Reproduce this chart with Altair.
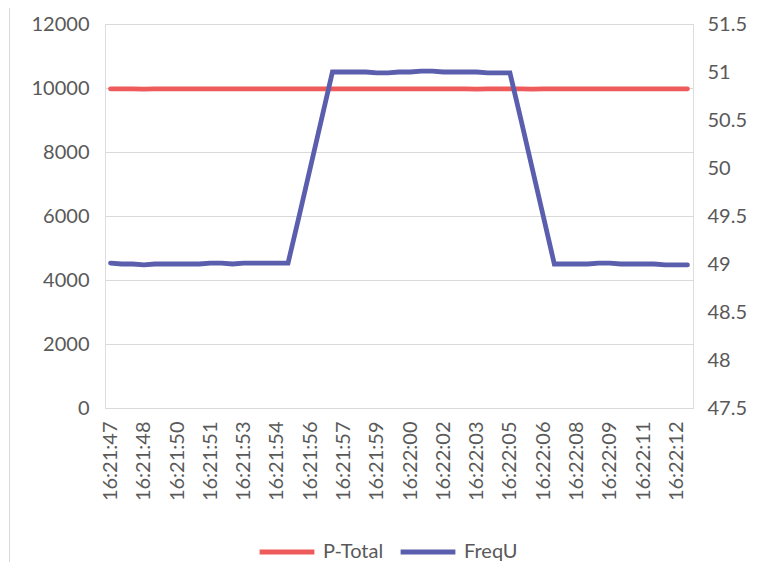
import altair as alt
import pandas as pd

times = [
    "16:21:47.0", "16:21:47.5", "16:21:48.0", "16:21:48.5", "16:21:49.0", "16:21:49.5",
    "16:21:50.0", "16:21:50.5", "16:21:51.0", "16:21:51.5", "16:21:52.0", "16:21:52.5",
    "16:21:53.0", "16:21:53.5", "16:21:54.0", "16:21:54.5", "16:21:55.0", "16:21:55.5",
    "16:21:56.0", "16:21:56.5", "16:21:57.0", "16:21:57.5", "16:21:58.0", "16:21:58.5",
    "16:21:59.0", "16:21:59.5", "16:22:00.0", "16:22:00.5", "16:22:01.0", "16:22:01.5",
    "16:22:02.0", "16:22:02.5", "16:22:03.0", "16:22:03.5", "16:22:04.0", "16:22:04.5",
    "16:22:05.0", "16:22:05.5", "16:22:06.0", "16:22:06.5", "16:22:07.0", "16:22:07.5",
    "16:22:08.0", "16:22:08.5", "16:22:09.0", "16:22:09.5", "16:22:10.0", "16:22:10.5",
    "16:22:11.0", "16:22:11.5", "16:22:12.0", "16:22:12.5", "16:22:13.0",
]

p_total = [
    9970, 9975, 9970, 9965, 9970, 9975, 9975, 9970, 9970, 9975, 9975, 9970, 9970,
    9975, 9975, 9970, 9970, 9975, 9975, 9970, 9970, 9975, 9975, 9970, 9970, 9975,
    9975, 9970, 9970, 9975, 9975, 9970, 9970, 9965, 9970, 9975, 9975, 9970, 9965,
    9970, 9975, 9975, 9970, 9970, 9975, 9975, 9970, 9970, 9975, 9970, 9970, 9975,
    9975,
]

freq_u = [
    49.01, 49.0, 49.0, 48.99, 49.0, 49.0, 49.0, 49.0, 49.0, 49.01, 49.01, 49.0, 49.01,
    49.01, 49.01, 49.01, 49.01, 49.5, 50.0, 50.5,
    51.0, 51.0, 51.0, 51.0, 50.99, 50.99, 51.0, 51.0, 51.01, 51.01, 51.0, 51.0, 51.0,
    51.0, 50.99, 50.99, 50.99, 50.5, 50.0, 49.5,
    49.0, 49.0, 49.0, 49.0, 49.01, 49.01, 49.0, 49.0, 49.0, 49.0, 48.99, 48.99, 48.99,
]

series_names = ["P-Total", "FreqU"]
series_colors = ["#EF5A5B", "#5B5EAD"]
left_ticks = [0, 2000, 4000, 6000, 8000, 10000, 12000]
right_ticks = [47.5, 48, 48.5, 49, 49.5, 50, 50.5, 51, 51.5]

rows = []
for t, v in zip(times, p_total):
    rows.append({"time": t, "series": "P-Total", "value": v})
for t, v in zip(times, freq_u):
    rows.append({"time": t, "series": "FreqU", "value": v})
df = pd.DataFrame(rows)

FONT = "Lato"
TXT = "#595959"
GRID = "#D9D9D9"

color = alt.Color(
    "series:N",
    scale=alt.Scale(domain=series_names, range=series_colors),
    sort=series_names,
    legend=alt.Legend(
        title=None,
        orient="none",
        direction="horizontal",
        legendX=152,
        legendY=498,
        symbolType="stroke",
        symbolSize=3000,
        symbolStrokeWidth=5,
        labelFont=FONT,
        labelFontSize=20,
        labelColor=TXT,
        labelOffset=6,
        columnPadding=6,
        padding=0,
    ),
)

x_enc = alt.X(
    "time:O",
    sort=times,
    title=None,
    axis=alt.Axis(
        values=times[0:52:3],
        labelExpr="substring(datum.label, 0, 8)",
        labelAngle=-90,
        labelPadding=13,
        labelFont=FONT,
        labelFontSize=20,
        labelColor=TXT,
        labelOverlap=False,
        ticks=False,
        grid=False,
        domain=True,
        domainColor=GRID,
        domainWidth=1,
    ),
)

base = alt.Chart(df)

left = base.transform_filter(alt.datum.series == "P-Total").mark_line(
    strokeWidth=4.8, strokeCap="round"
).encode(
    x=x_enc,
    y=alt.Y(
        "value:Q",
        title=None,
        scale=alt.Scale(domain=[0, 12000], nice=False, zero=False),
        axis=alt.Axis(
            orient="left",
            values=left_ticks,
            format="d",
            grid=True,
            gridColor=GRID,
            gridWidth=1,
            domain=False,
            ticks=False,
            labelPadding=16,
            labelFont=FONT,
            labelFontSize=20,
            labelColor=TXT,
        ),
    ),
    color=color,
)

right = base.transform_filter(alt.datum.series == "FreqU").mark_line(
    strokeWidth=4.8, strokeCap="round"
).encode(
    x=x_enc,
    y=alt.Y(
        "value:Q",
        title=None,
        scale=alt.Scale(domain=[47.5, 51.5], nice=False, zero=False),
        axis=alt.Axis(
            orient="right",
            values=right_ticks,
            format="~g",
            grid=False,
            domain=False,
            ticks=False,
            labelPadding=14,
            labelFont=FONT,
            labelFontSize=20,
            labelColor=TXT,
        ),
    ),
    color=color,
)

frame = alt.Chart(alt.Data(values=[{"k": 1}])).mark_rule(
    color=GRID, strokeWidth=1
).encode(x=alt.value(-95.5), y=alt.value(-16), y2=alt.value(540))

chart = (
    alt.layer(left, right, frame)
    .resolve_scale(y="independent")
    .properties(
        width=588,
        height=384,
        autosize=alt.AutoSizeParams(type="none"),
        padding={"left": 97, "top": 16, "right": 56, "bottom": 154},
    )
    .configure_view(stroke=None)
    .configure(background="white")
)

chart.save("out.html", embed_options={"renderer": "svg", "actions": False})
